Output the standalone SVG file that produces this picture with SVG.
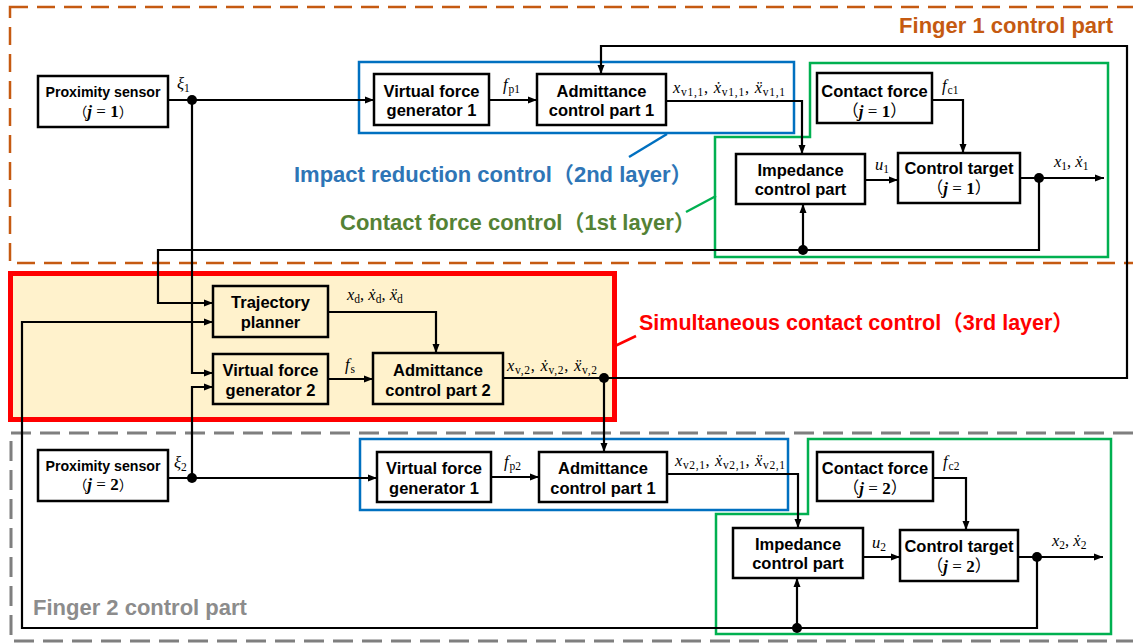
<svg xmlns="http://www.w3.org/2000/svg" width="1133" height="643" viewBox="0 0 1133 643">
<defs>
<marker id="a" markerWidth="10" markerHeight="8" refX="9" refY="4" orient="auto" markerUnits="userSpaceOnUse"><path d="M0,0.5 L9,4 L0,7.5 z" fill="#000"/></marker>
<style>
.box{fill:#fff;stroke:#000;stroke-width:2.5}
.ybox{fill:#FFF2CC;stroke:#000;stroke-width:2.5}
.lbl{font-family:"Liberation Sans","Noto Sans CJK JP",sans-serif;font-weight:bold;font-size:16.5px;text-anchor:middle;fill:#000}
.sm{font-size:14.2px}
.cjk{font-family:"Noto Sans CJK JP",sans-serif;font-weight:normal}
.mj{font-family:"Liberation Serif","DejaVu Serif",serif;font-weight:bold;font-style:italic;font-size:17px}
.mn{font-family:"Liberation Serif","DejaVu Serif",serif;font-weight:bold;font-style:normal;font-size:17px}
.meq{font-family:"Liberation Serif","DejaVu Serif",serif;font-weight:normal;font-size:17px}
.m{font-family:"Liberation Serif","DejaVu Serif",serif;font-style:italic;font-size:16.5px;fill:#000}
.s{font-style:normal;font-size:11.5px}
.c{fill:none;stroke:#000;stroke-width:2.2}
.arr{marker-end:url(#a)}
.dot{fill:#000}
.title{font-family:"Liberation Sans","Noto Sans CJK JP",sans-serif;font-weight:bold;font-size:22px}
</style>
</defs>
<rect width="1133" height="643" fill="#fff"/>

<!-- regions -->
<g id="regions">
<rect x="10" y="7" width="1140" height="256" fill="none" stroke="#C55A11" stroke-width="2.5" stroke-dasharray="18 9"/>
<rect x="11" y="433" width="1140" height="208" fill="none" stroke="#7F7F7F" stroke-width="3" stroke-dasharray="20 9"/>
<rect x="10.5" y="273.5" width="604" height="146" fill="#FFF2CC" stroke="#FF0000" stroke-width="5"/>
<rect x="359" y="62" width="435" height="71" fill="none" stroke="#0070C0" stroke-width="2.5"/>
<rect x="360" y="439" width="428" height="71" fill="none" stroke="#0070C0" stroke-width="2.5"/>
<polygon points="810,63 1108,63 1108,257 715,257 715,137 810,137" fill="none" stroke="#00B050" stroke-width="2.5"/>
<polygon points="808,439 1111,439 1111,634 716,634 716,514 808,514" fill="none" stroke="#00B050" stroke-width="2.5"/>
<line x1="629" y1="157" x2="667" y2="134" stroke="#0070C0" stroke-width="2.5"/>
<line x1="686" y1="212" x2="716" y2="196" stroke="#00B050" stroke-width="2.5"/>
<line x1="615" y1="346" x2="636" y2="336" stroke="#FF0000" stroke-width="2.5"/>
<text class="title" x="1113" y="33" text-anchor="end" fill="#C55A11">Finger 1 control part</text>
<text class="title" x="294" y="182" fill="#2E75B6">Impact reduction control（2nd layer）</text>
<text class="title" x="340" y="230" fill="#548235">Contact force control（1st layer）</text>
<text class="title" x="639" y="330" fill="#FF0000" style="font-size:21.5px">Simultaneous contact control（3rd layer）</text>
<text class="title" x="33" y="615" fill="#8C8C8C">Finger 2 control part</text>
</g>

<!-- nodes -->
<g id="prox1"><rect class="box" x="38" y="76" width="130" height="51"/>
<text class="lbl sm" x="103" y="97">Proximity sensor</text>
<text class="lbl sm" x="103" y="117"><tspan class="cjk">（</tspan><tspan class="mj">j</tspan><tspan class="meq"> = </tspan><tspan class="mn">1</tspan><tspan class="cjk">）</tspan></text></g>

<g id="vfg1_1"><rect class="box" x="374" y="74" width="115" height="51"/>
<text class="lbl" x="431.5" y="97">Virtual force</text><text class="lbl" x="431.5" y="116">generator 1</text></g>

<g id="acp1_1"><rect class="box" x="537" y="74" width="129" height="51"/>
<text class="lbl" x="601.5" y="97">Admittance</text><text class="lbl" x="601.5" y="116">control part 1</text></g>

<g id="cf1"><rect class="box" x="817" y="73" width="115" height="50"/>
<text class="lbl" x="874.5" y="97">Contact force</text>
<text class="lbl" x="874.5" y="117"><tspan class="cjk">（</tspan><tspan class="mj">j</tspan><tspan class="meq"> = </tspan><tspan class="mn">1</tspan><tspan class="cjk">）</tspan></text></g>

<g id="imp1"><rect class="box" x="736" y="154" width="129" height="50"/>
<text class="lbl" x="800.5" y="176">Impedance</text><text class="lbl" x="800.5" y="195">control part</text></g>

<g id="ct1"><rect class="box" x="898" y="153" width="122" height="50"/>
<text class="lbl" x="959" y="174">Control target</text>
<text class="lbl" x="959" y="194"><tspan class="cjk">（</tspan><tspan class="mj">j</tspan><tspan class="meq"> = </tspan><tspan class="mn">1</tspan><tspan class="cjk">）</tspan></text></g>

<g id="tp"><rect class="ybox" x="213" y="286" width="115" height="51"/>
<text class="lbl" x="270.5" y="308">Trajectory</text><text class="lbl" x="270.5" y="328">planner</text></g>

<g id="vfg2"><rect class="ybox" x="213" y="354" width="115" height="50"/>
<text class="lbl" x="270.5" y="376">Virtual force</text><text class="lbl" x="270.5" y="396">generator 2</text></g>

<g id="acp2"><rect class="ybox" x="373" y="353" width="130" height="51"/>
<text class="lbl" x="438" y="376">Admittance</text><text class="lbl" x="438" y="396">control part 2</text></g>

<g id="prox2"><rect class="box" x="38" y="450" width="130" height="51"/>
<text class="lbl sm" x="103" y="471">Proximity sensor</text>
<text class="lbl sm" x="103" y="490"><tspan class="cjk">（</tspan><tspan class="mj">j</tspan><tspan class="meq"> = </tspan><tspan class="mn">2</tspan><tspan class="cjk">）</tspan></text></g>

<g id="vfg1_2"><rect class="box" x="377" y="452" width="114" height="50"/>
<text class="lbl" x="434" y="474">Virtual force</text><text class="lbl" x="434" y="494">generator 1</text></g>

<g id="acp1_2"><rect class="box" x="539" y="452" width="128" height="50"/>
<text class="lbl" x="603" y="474">Admittance</text><text class="lbl" x="603" y="494">control part 1</text></g>

<g id="cf2"><rect class="box" x="817" y="452" width="116" height="49"/>
<text class="lbl" x="875" y="474">Contact force</text>
<text class="lbl" x="875" y="494"><tspan class="cjk">（</tspan><tspan class="mj">j</tspan><tspan class="meq"> = </tspan><tspan class="mn">2</tspan><tspan class="cjk">）</tspan></text></g>

<g id="imp2"><rect class="box" x="733" y="528" width="130" height="50"/>
<text class="lbl" x="798" y="550">Impedance</text><text class="lbl" x="798" y="569">control part</text></g>

<g id="ct2"><rect class="box" x="900" y="530" width="118" height="51"/>
<text class="lbl" x="959" y="552">Control target</text>
<text class="lbl" x="959" y="572"><tspan class="cjk">（</tspan><tspan class="mj">j</tspan><tspan class="meq"> = </tspan><tspan class="mn">2</tspan><tspan class="cjk">）</tspan></text></g>

<!-- connectors -->
<g id="connectors">
<path class="c arr" d="M168,100 H374"/>
<path class="c arr" d="M489,100 H537"/>
<path class="c arr" d="M666,101 H802 V154"/>
<path class="c arr" d="M932,100 H963 V153"/>
<path class="c arr" d="M865,180 H898"/>
<path class="c arr" d="M1020,178 H1104"/>
<path class="c arr" d="M1039,178 V250 H158 V303 H213"/>
<path class="c arr" d="M803,250 V204"/>
<path class="c arr" d="M192,100 V373 H213"/>
<path class="c arr" d="M604,378 H1127 V46 H601 V74"/>
<path class="c arr" d="M328,312 H436 V353"/>
<path class="c arr" d="M328,379 H373"/>
<path class="c arr" d="M503,378 H604 V452"/>
<path class="c arr" d="M168,478 H377"/>
<path class="c arr" d="M192,478 V387 H213"/>
<path class="c arr" d="M491,477 H539"/>
<path class="c arr" d="M667,474 H798 V528"/>
<path class="c arr" d="M933,478 H966 V530"/>
<path class="c arr" d="M863,557 H900"/>
<path class="c arr" d="M1018,557 H1103"/>
<path class="c arr" d="M1037,557 V628 H22 V322 H213"/>
<path class="c arr" d="M797,628 V578"/>
<circle class="dot" cx="192" cy="100" r="5"/>
<circle class="dot" cx="1039" cy="178" r="5"/>
<circle class="dot" cx="803" cy="250" r="5"/>
<circle class="dot" cx="604" cy="378" r="5"/>
<circle class="dot" cx="192" cy="478" r="5"/>
<circle class="dot" cx="1037" cy="557" r="5"/>
<circle class="dot" cx="797" cy="628" r="5"/>
</g>

<!-- signal labels -->
<g id="signals">
<text class="m" x="177" y="89">ξ<tspan class="s" dy="3">1</tspan></text>
<text class="m" x="503" y="90">f<tspan class="s" dy="3" dx="1">p1</tspan></text>
<text class="m" x="673" y="93" textLength="112">x<tspan class="s" dy="3">v1,1</tspan><tspan style="font-style:normal" dy="-3">, </tspan>ẋ<tspan class="s" dy="3">v1,1</tspan><tspan style="font-style:normal" dy="-3">, </tspan>ẍ<tspan class="s" dy="3">v1,1</tspan></text>
<text class="m" x="942" y="91">f<tspan class="s" dy="3" dx="1">c1</tspan></text>
<text class="m" x="875" y="170">u<tspan class="s" dy="3">1</tspan></text>
<text class="m" x="1054" y="167">x<tspan class="s" dy="3">1</tspan><tspan style="font-style:normal" dy="-3">, </tspan>ẋ<tspan class="s" dy="3">1</tspan></text>
<text class="m" x="347" y="300">x<tspan class="s" dy="3">d</tspan><tspan style="font-style:normal" dy="-3">, </tspan>ẋ<tspan class="s" dy="3">d</tspan><tspan style="font-style:normal" dy="-3">, </tspan>ẍ<tspan class="s" dy="3">d</tspan></text>
<text class="m" x="345" y="370">f<tspan class="s" dy="3" dx="1">s</tspan></text>
<text class="m" x="507" y="371" textLength="90">x<tspan class="s" dy="3">v,2</tspan><tspan style="font-style:normal" dy="-3">, </tspan>ẋ<tspan class="s" dy="3">v,2</tspan><tspan style="font-style:normal" dy="-3">, </tspan>ẍ<tspan class="s" dy="3">v,2</tspan></text>
<text class="m" x="174" y="468">ξ<tspan class="s" dy="3">2</tspan></text>
<text class="m" x="504" y="467">f<tspan class="s" dy="3" dx="1">p2</tspan></text>
<text class="m" x="675" y="466" textLength="110">x<tspan class="s" dy="3">v2,1</tspan><tspan style="font-style:normal" dy="-3">, </tspan>ẋ<tspan class="s" dy="3">v2,1</tspan><tspan style="font-style:normal" dy="-3">, </tspan>ẍ<tspan class="s" dy="3">v2,1</tspan></text>
<text class="m" x="943" y="467">f<tspan class="s" dy="3" dx="1">c2</tspan></text>
<text class="m" x="872" y="548">u<tspan class="s" dy="3">2</tspan></text>
<text class="m" x="1052" y="546">x<tspan class="s" dy="3">2</tspan><tspan style="font-style:normal" dy="-3">, </tspan>ẋ<tspan class="s" dy="3">2</tspan></text>
</g>
</svg>
